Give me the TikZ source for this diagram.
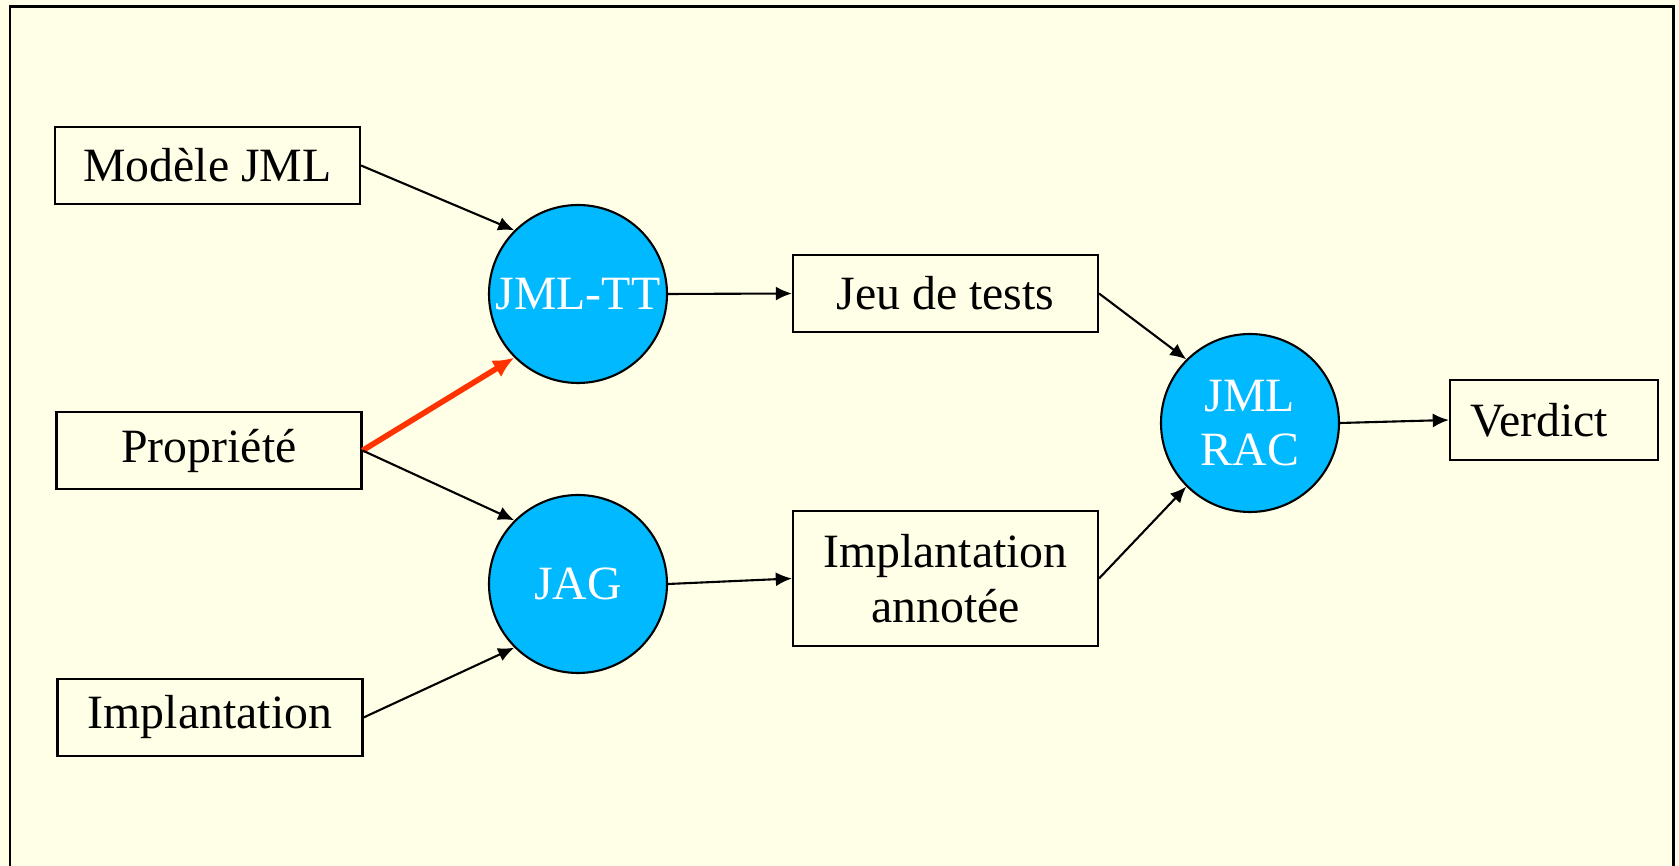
\documentclass[tikz,border=0pt]{standalone}
\usepackage{fontspec}
\setmainfont{Liberation Serif}
\usetikzlibrary{arrows.meta}
\definecolor{paper}{RGB}{255,255,232}
\definecolor{tool}{RGB}{0,185,255}
\definecolor{hot}{RGB}{255,51,0}
\begin{document}
\begin{tikzpicture}[x=1cm, y=1cm,
    font=\fontsize{13.6}{15.5}\selectfont,
    >={Latex[length=4.6pt,width=4.0pt]},
    docbox/.style={draw, line width=0.6pt, fill=paper, minimum width=3.05cm, minimum height=0.77cm, inner sep=1pt, align=center},
    toolnode/.style={circle, draw, line width=0.6pt, fill=tool, text=white, minimum size=1.78cm, inner sep=0.5pt, align=center},
    flow/.style={->, line width=0.6pt}]
    % page
    \fill[paper] (0,0) rectangle (16.79,8.66);
    \useasboundingbox (0,0) rectangle (16.79,8.66);
    \draw[line width=0.85pt] (0.10,-0.2) -- (0.10,8.59) -- (16.73,8.59) -- (16.73,-0.2);
    % inputs
    \node[docbox] (modele) at (2.075,7.005) {Modèle JML};
    \node[docbox] (prop)   at (2.09,4.155)  {Propriété};
    \node[docbox] (impl)   at (2.10,1.485)  {Implantation};
    % tools
    \node[toolnode] (jmltt) at (5.78,5.72) {JML-TT};
    \node[toolnode] (jag)   at (5.78,2.82) {JAG};
    \node[toolnode] (rac)   at (12.50,4.43) {JML\\RAC};
    % outputs
    \node[docbox] (jeu)     at (9.455,5.725) {Jeu de tests};
    \node[docbox, minimum height=1.35cm] (annot) at (9.455,2.875) {Implantation\\annotée};
    \node[docbox, minimum width=2.08cm, minimum height=0.80cm, text width=1.68cm, inner xsep=0.2cm, align=left] (verdict) at (15.54,4.46) {Verdict};
    % arrows
    \draw[flow] (modele.east) -- (jmltt.135);
    \draw[->, line width=1.6pt, hot, >={Latex[length=6pt,width=5.5pt]}] (prop.east) -- (jmltt.225);
    \draw[flow] (prop.east) -- (jag.135);
    \draw[flow] (impl.east) -- (jag.225);
    \draw[flow] (jmltt.east) -- (jeu.west);
    \draw[flow] (jag.east) -- (annot.west);
    \draw[flow] (jeu.east) -- (rac.135);
    \draw[flow] (annot.east) -- (rac.225);
    \draw[flow] (rac.east) -- (verdict.west);
\end{tikzpicture}
\end{document}
